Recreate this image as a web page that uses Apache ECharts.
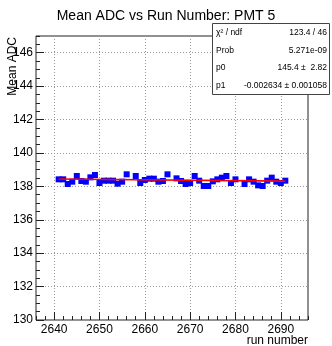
<!DOCTYPE html>
<html><head><meta charset="utf-8">
<script src="https://cdn.jsdelivr.net/npm/echarts@6/dist/echarts.min.js"></script>
<style>html,body{margin:0;padding:0;background:#fff}#c{width:332px;height:346px}</style>
</head><body><div id="c"></div>
<script>
var runs = [2641,2642,2643,2644,2645,2646,2647,2648,2649,2650,2651,2652,2653,2654,2655,2656,2658,2659,2660,2661,2662,2663,2664,2665,2667,2668,2669,2670,2671,2672,2673,2674,2675,2676,2677,2678,2679,2680,2682,2683,2684,2685,2686,2687,2688,2689,2690,2691];
var meanADC = [138.42,138.42,138.14,138.28,138.62,138.32,138.28,138.54,138.68,138.20,138.34,138.34,138.34,138.16,138.28,138.72,138.62,138.20,138.38,138.46,138.46,138.28,138.32,138.72,138.48,138.32,138.14,138.20,138.62,138.34,138.02,138.02,138.30,138.42,138.52,138.62,138.20,138.42,138.14,138.42,138.28,138.06,138.02,138.34,138.52,138.28,138.20,138.34];
var fitX = [2641, 2691];
var fitY = [138.444, 138.312];
var xMajor = [2640,2650,2660,2670,2680,2690];
var xMinor = [2636,2638,2642,2644,2646,2648,2652,2654,2656,2658,2662,2664,2666,2668,2672,2674,2676,2678,2682,2684,2686,2688,2692,2694,2696];
var yMajor = [130,132,134,136,138,140,142,144,146];
var yMinor = [130.5,131,131.5,132.5,133,133.5,134.5,135,135.5,136.5,137,137.5,138.5,139,139.5,140.5,141,141.5,142.5,143,143.5,144.5,145,145.5,146.5,147];
var statRows = [["χ² / ndf","123.4 / 46"],["Prob","5.271e-09"],["p0","145.4 ±  2.82"],["p1","-0.002634 ± 0.001058"]];

var FONT = "Liberation Sans";
var chart = echarts.init(document.getElementById('c'), null, {renderer:'canvas'});
var pts = runs.map(function(r,i){return [r, meanADC[i]];});
var fit = fitX.map(function(x,i){return [x, fitY[i]];});
var grid = {left:36, top:36, width:272, height:284, show:true, borderColor:'#222', borderWidth:1, backgroundColor:'transparent'};
var gl = {show:true, lineStyle:{color:'#999', type:[1,2], width:1}};
var statGraphics = [{type:'rect', shape:{x:212.5,y:23.5,width:117,height:71}, style:{fill:'#fff', stroke:'#444', lineWidth:1}, z:100}];
statRows.forEach(function(r,i){
  var y = 33 + i*17.5;
  statGraphics.push({type:'text', x:216, y:y, z:101, style:{text:r[0], font:'8.5px '+FONT, fill:'#000', align:'left', verticalAlign:'middle'}});
  statGraphics.push({type:'text', x:327, y:y, z:101, style:{text:r[1], font:'8.5px '+FONT, fill:'#000', align:'right', verticalAlign:'middle'}});
});
chart.setOption({
  animation:false,
  backgroundColor:'#fff',
  title:{text:'Mean ADC vs Run Number: PMT 5', left:'center', top:4, textStyle:{fontFamily:FONT, fontWeight:'normal', fontSize:14, color:'#000'}},
  grid: grid,
  xAxis:[{type:'value', min:2636, max:2696, position:'bottom',
    axisLine:{show:false},
    axisTick:{show:true, inside:true, length:8, customValues:xMajor, lineStyle:{color:'#222'}},
    axisLabel:{show:true, customValues:xMajor, margin:4, fontFamily:FONT, fontSize:12, color:'#000', formatter:function(v){return String(v);}},
    splitLine:gl},
   {type:'value', min:2636, max:2696, position:'bottom',
    axisLine:{show:false},
    axisTick:{show:true, inside:true, length:4, customValues:xMinor, lineStyle:{color:'#222'}},
    axisLabel:{show:false}, splitLine:{show:false}}],
  yAxis:[{type:'value', min:130, max:147, position:'left',
    axisLine:{show:false},
    axisTick:{show:true, inside:true, length:8, customValues:yMajor, lineStyle:{color:'#222'}},
    axisLabel:{show:true, customValues:yMajor, margin:3, fontFamily:FONT, fontSize:12, color:'#000'},
    splitLine:gl},
   {type:'value', min:130, max:147, position:'left',
    axisLine:{show:false},
    axisTick:{show:true, inside:true, length:4, customValues:yMinor, lineStyle:{color:'#222'}},
    axisLabel:{show:false}, splitLine:{show:false}}],
  series:[
    {type:'scatter', data:pts, symbol:'rect', symbolSize:6, itemStyle:{color:'#0000ff', opacity:1}, z:3},
    {type:'line', data:fit, symbol:'none', lineStyle:{color:'#ff0000', width:1.6}, z:4}
  ],
  graphic: [
    {type:'text', x:13, y:37, rotation:Math.PI/2, style:{text:'Mean ADC', font:'12px '+FONT, fill:'#000', align:'right', verticalAlign:'middle'}},
    {type:'text', x:308, y:341, style:{text:'run number', font:'12px '+FONT, fill:'#000', align:'right', verticalAlign:'middle'}}
  ].concat(statGraphics)
});
</script></body></html>
